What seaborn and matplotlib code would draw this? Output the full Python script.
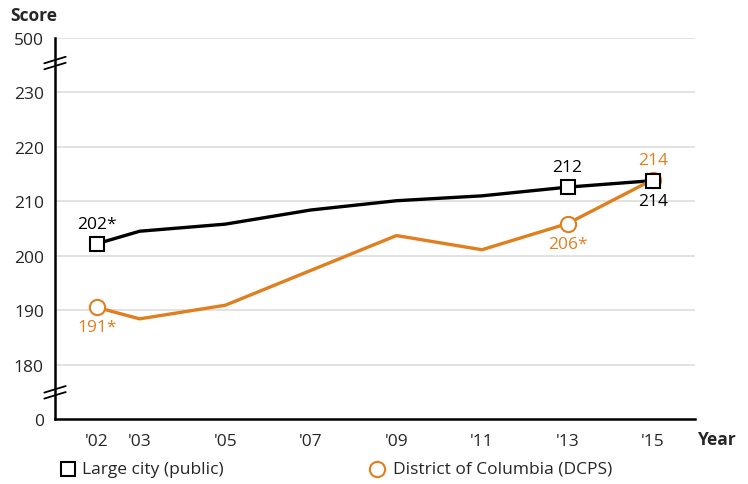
import numpy as np
import pandas as pd
import seaborn as sns
import matplotlib
matplotlib.use("Agg")
import matplotlib.pyplot as plt

years = [2002, 2003, 2005, 2007, 2009, 2011, 2013, 2015]
year_labels = ["'02", "'03", "'05", "'07", "'09", "'11", "'13", "'15"]
large_city = [202.2, 204.5, 205.8, 208.4, 210.1, 211.0, 212.6, 213.8]
dcps = [190.5, 188.4, 190.9, 197.3, 203.7, 201.1, 205.9, 214.0]
marker_years = [2002, 2013, 2015]
y_ticks = [0, 180, 190, 200, 210, 220, 230, 500]

black = "#000000"
orange = "#e07f1e"

sns.set_theme(style="white")
plt.rcParams["font.family"] = ["Open Sans", "DejaVu Sans"]


def ypos(v):
    # broken axis: 0 sits one step under 180, 500 one step over 230
    if v == 500:
        return 240
    if v == 0:
        return 170
    return v


df = pd.DataFrame({
    "year": years * 2,
    "score": large_city + dcps,
    "group": ["Large city (public)"] * len(years) + ["District of Columbia (DCPS)"] * len(years),
})

fig = plt.figure(figsize=(7.48, 4.85), dpi=100)
ax = fig.add_axes([55 / 748, 1 - 420 / 485, 640 / 748, 381 / 485])

for t in y_ticks[1:]:
    ax.axhline(ypos(t), color="#dddddd", lw=1.2, zorder=0)

sns.lineplot(data=df, x="year", y="score", hue="group",
             palette=[black, orange], linewidth=2.4, ax=ax, legend=False, zorder=2)

mk = df[df["year"].isin(marker_years)]
lc = mk[mk["group"] == "Large city (public)"]
dc = mk[mk["group"] != "Large city (public)"]
ax.plot(dc["year"], dc["score"], "o", ms=11, mfc="white", mec=orange, mew=1.5, ls="none", zorder=3)
ax.plot(lc["year"], lc["score"], "s", ms=10, mfc="white", mec=black, mew=1.5, ls="none", zorder=4)

fs = 12.5
off = 2.2
ax.text(2002, 202.2 + off, "202*", ha="center", va="bottom", fontsize=fs, color=black)
ax.text(2002, 190.5 - off, "191*", ha="center", va="top", fontsize=fs, color=orange)
ax.text(2013, 212.6 + off, "212", ha="center", va="bottom", fontsize=fs, color=black)
ax.text(2013, 205.9 - off, "206*", ha="center", va="top", fontsize=fs, color=orange)
ax.text(2015, 214.0 + off, "214", ha="center", va="bottom", fontsize=fs, color=orange)
ax.text(2015, 213.8 - off, "214", ha="center", va="top", fontsize=fs, color=black)

ax.set_xlim(2001.02, 2015.98)
ax.set_ylim(170, 240)
ax.set_yticks([ypos(t) for t in y_ticks])
ax.set_yticklabels([str(t) for t in y_ticks], fontsize=fs)
ax.set_xticks(years)
ax.set_xticklabels(year_labels, fontsize=fs)
ax.tick_params(axis="x", direction="out", length=6, width=1.5, color=black, pad=4)
ax.tick_params(axis="y", length=0, pad=8)
ax.set_xlabel("")
ax.set_ylabel("")

for s in ["top", "right"]:
    ax.spines[s].set_visible(False)
for s in ["left", "bottom"]:
    ax.spines[s].set_color(black)
    ax.spines[s].set_linewidth(1.8)

# break marks on the y axis
for yb in [235.4, 174.9]:
    for dy in [-0.55, 0.55]:
        ax.plot([2001.02 - 0.25, 2001.02 + 0.25], [yb + dy - 0.6, yb + dy + 0.6],
                color=black, lw=1.3, clip_on=False, zorder=5)

fig.text(10 / 748, 1 - 16 / 485, "Score", fontsize=fs, fontweight="bold", va="center", ha="left")
fig.text(717 / 748, 1 - 440 / 485, "Year", fontsize=fs, fontweight="bold", va="center", ha="center")

# legend
fig.lines.append(plt.Line2D([68 / 748], [1 - 470 / 485], marker="s", ms=10, mfc="white",
                            mec=black, mew=1.5, transform=fig.transFigure, ls="none"))
fig.text(82 / 748, 1 - 470 / 485, "Large city (public)", fontsize=fs, va="center", ha="left")
fig.lines.append(plt.Line2D([377 / 748], [1 - 470 / 485], marker="o", ms=11, mfc="white",
                            mec=orange, mew=1.5, transform=fig.transFigure, ls="none"))
fig.text(393 / 748, 1 - 470 / 485, "District of Columbia (DCPS)", fontsize=fs, va="center", ha="left")

fig.savefig("out.png", dpi=100)
